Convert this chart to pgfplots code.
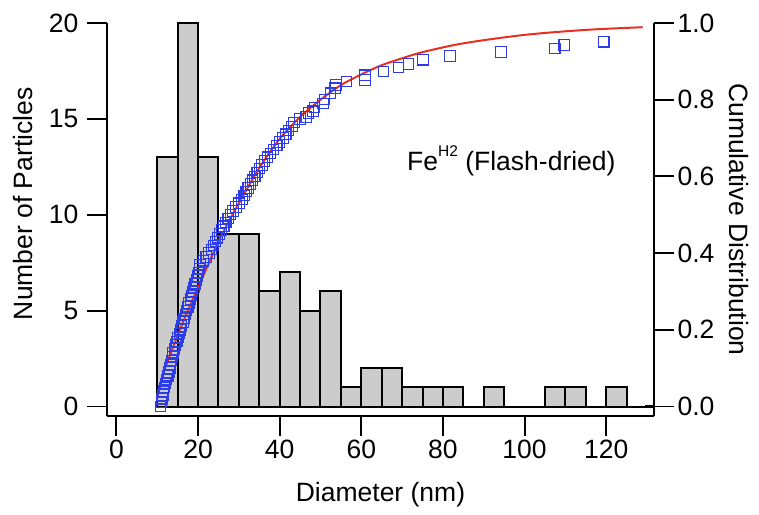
\documentclass[border=0pt]{standalone}
\usepackage{fontspec}
\setmainfont{Liberation Sans}
\usepackage{pgfplots}
\pgfplotsset{compat=1.18}

\definecolor{bargray}{RGB}{204,204,204}
\definecolor{sqblue}{RGB}{45,60,230}
\definecolor{fitred}{RGB}{235,45,35}
\newcommand{\bigf}{\fontsize{26.5}{30}\selectfont}

\begin{document}
\begin{tikzpicture}
\path[use as bounding box] (-107pt,-98pt) rectangle (652pt,416pt);

\pgfplotsset{
  base/.style={
    scale only axis, width=547pt, height=393pt,
    xmin=-2.3, xmax=131.7,
    tick align=outside,
    major tick length=20pt,
    minor tick num=0,
    axis line style={line width=1.8pt},
    major tick style={line width=1.8pt, black},
    tick label style={font=\bigf},
    label style={font=\bigf},
    /pgf/number format/assume math mode=true,
  }
}

% histogram (left axis)
\begin{axis}[base,
  axis x line*=bottom, axis y line*=left,
  ymin=-0.495, ymax=20,
  xtick={0,20,40,60,80,100,120},
  ytick={0,5,10,15,20},
  yticklabel style={xshift=-5pt},
  xlabel={Diameter (nm)},
  ylabel={Number of Particles},
  x label style={at={(axis description cs:0.5,-0.2)}, anchor=center},
  y label style={at={(axis description cs:-0.1536,0.54)}, anchor=center},
]
% baseline under empty bins
\addplot[black, line width=2pt] coordinates {(10,0) (131.7,0)};
\addplot[ybar interval, fill=bargray, draw=black, line width=2pt] coordinates {
  (10,13) (15,20) (20,13) (25,9) (30,9) (35,6) (40,7) (45,5) (50,6)
  (55,1) (60,2) (65,2) (70,1) (75,1) (80,1) (85,0) (90,1) (95,0)
  (100,0) (105,1) (110,1) (115,0) (120,1) (125,0)
};
\addplot[black, line width=3.5pt] coordinates {(129.5,0) (131.7,0)};
\node[anchor=base west, inner sep=0pt, font=\bigf] at (axis cs:71.2,12.3)
  {Fe\raisebox{14pt}{\fontsize{15.5}{16}\selectfont H2} (Flash-dried)};
\end{axis}

% cumulative distribution (right axis)
\begin{axis}[base,
  hide x axis, axis y line*=right,
  ymin=-0.0248, ymax=1,
  ytick={0,0.2,0.4,0.6,0.8,1},
  yticklabel style={/pgf/number format/.cd, fixed, fixed zerofill, precision=1},
  ylabel={Cumulative Distribution},
  y label style={at={(axis description cs:1.156,0.5)}, anchor=center, rotate=180},
]
\addplot[only marks, mark=square, mark size=5.2pt, color=sqblue,
  mark options={draw=sqblue, fill=none, line width=1.1pt}] coordinates {
  (10.8,0.00) (11.0,0.01) (11.2,0.02) (11.4,0.03) (11.6,0.04)
  (11.8,0.05) (12.0,0.06) (12.3,0.07) (12.6,0.08) (12.9,0.09)
  (13.1,0.10) (13.3,0.11) (13.5,0.12) (13.7,0.13) (13.9,0.14)
  (14.2,0.15) (14.5,0.16) (14.8,0.17) (15.1,0.18) (15.4,0.19)
  (15.7,0.20) (16.0,0.21) (16.3,0.22) (16.6,0.23) (16.9,0.24)
  (17.2,0.25) (17.5,0.26) (17.8,0.27) (18.1,0.28) (18.4,0.29)
  (18.7,0.30) (19.0,0.31) (19.3,0.32) (19.6,0.33) (19.9,0.34)
  (20.1,0.35) (20.3,0.36) (20.5,0.37) (21.3,0.38) (22.0,0.39)
  (22.7,0.40) (23.3,0.41) (23.8,0.42) (24.3,0.43) (24.8,0.44)
  (25.3,0.45) (25.8,0.46) (26.3,0.47) (26.8,0.48) (27.4,0.49)
  (28.0,0.50) (28.6,0.51) (29.3,0.52) (30.0,0.53) (30.8,0.54)
  (31.3,0.55) (31.8,0.56) (32.3,0.57) (32.8,0.58) (33.3,0.59)
  (33.9,0.60) (34.5,0.61) (35.1,0.62) (35.7,0.63) (36.3,0.64)
  (37.0,0.65) (37.8,0.66) (38.5,0.67) (39.3,0.68) (40.0,0.69)
  (40.8,0.70) (41.5,0.71) (42.2,0.72) (43.0,0.73) (43.5,0.74)
  (45.0,0.75) (46.5,0.755) (47.0,0.765) (48.2,0.77) (48.5,0.78)
  (50.6,0.79) (51.0,0.80) (52.4,0.817) (53.6,0.83) (53.8,0.838)
  (56.4,0.847) (60.9,0.851) (60.9,0.864) (65.4,0.873) (69.1,0.884)
  (71.5,0.893) (75.1,0.904) (81.7,0.914) (94.2,0.924) (107.4,0.934)
  (109.7,0.943) (119.4,0.951)
};
\addplot[fitred, line width=2pt, smooth, no marks] coordinates {
  (11.4,0.088) (13,0.13) (15,0.185) (17.5,0.25) (20,0.31) (22.5,0.37)
  (25,0.43) (27.5,0.482) (30,0.53) (35,0.622) (40,0.698) (45,0.755)
  (50,0.80) (55,0.838) (60,0.866) (65,0.89) (70,0.908) (75,0.924)
  (85,0.947) (100,0.969) (115,0.982) (128.9,0.989)
};
\end{axis}
\end{tikzpicture}
\end{document}
